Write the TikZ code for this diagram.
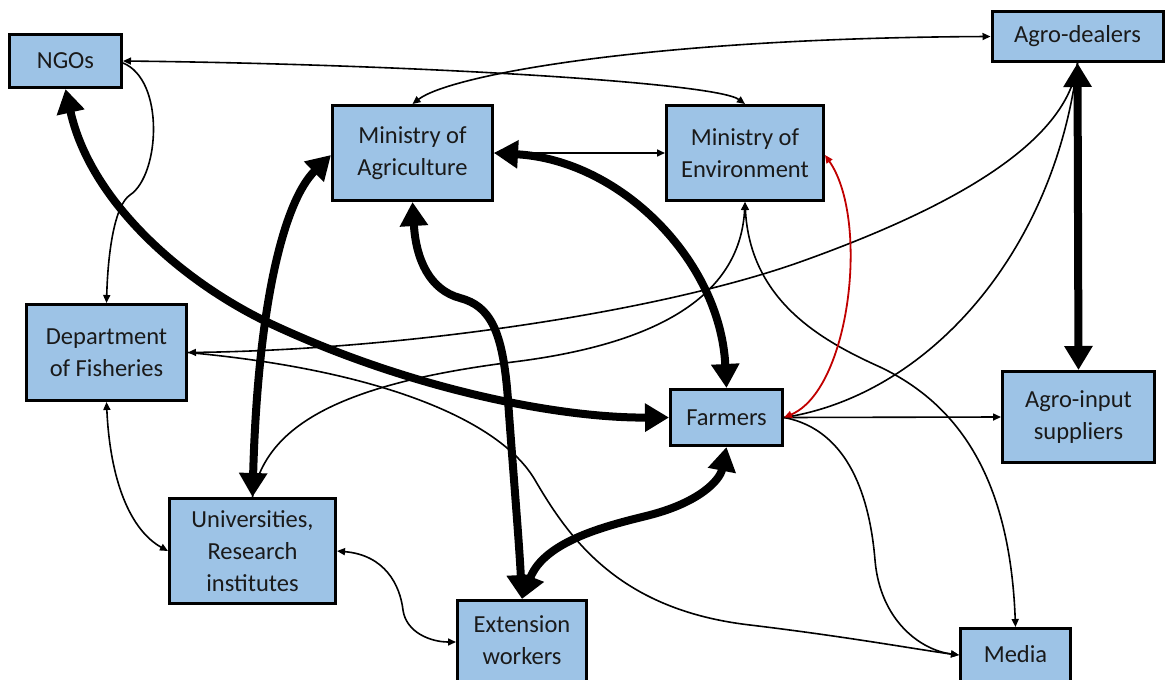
\documentclass[tikz,border=0pt]{standalone}
\usepackage{fontspec}
\setmainfont{Carlito}
\usetikzlibrary{arrows.meta}
\definecolor{boxblue}{HTML}{9DC3E6}
\definecolor{txt}{HTML}{1A1A1A}
\definecolor{redline}{HTML}{C00000}
\tikzset{
  tn/.tip={Triangle[length=8pt,width=7pt]},
  tk/.tip={Triangle[length=24pt,width=27pt]}
}
\begin{document}
\begin{tikzpicture}[x=1pt,y=-1pt,
  box/.style={draw=black,line width=3pt,fill=boxblue,text=txt,align=center,inner sep=0pt,font=\fontsize{24.5}{32}\selectfont},
  lnk/.style={line width=1.6pt,draw=black},
  big/.style={line width=8pt,draw=black},
  redl/.style={line width=1.8pt,draw=redline}]
\useasboundingbox (0,0) rectangle (1165,680);
% nodes
\node[box,minimum width=112pt,minimum height=53pt] (ngo) at (65.5,61) {NGOs};
\node[box,minimum width=160pt,minimum height=95pt] (moa) at (412.5,153) {Ministry of\\Agriculture};
\node[box,minimum width=157pt,minimum height=95pt] (moe) at (745,153) {Ministry of\\Environment};
\node[box,minimum width=171pt,minimum height=50pt] (agd) at (1077.5,36.5) {Agro-dealers};
\node[box,minimum width=160pt,minimum height=96pt] (dof) at (106.5,352.5) {Department\\of Fisheries};
\node[box,minimum width=112pt,minimum height=56pt] (far) at (726.5,417.5) {Farmers};
\node[box,minimum width=152pt,minimum height=91pt] (ais) at (1078.5,417) {Agro-input\\suppliers};
\node[box,minimum width=166pt,minimum height=105pt] (uni) at (252.5,551) {Universities,\\Research\\institutes};
\node[box,minimum width=129pt,minimum height=111pt] (ext) at (522,656) {Extension\\workers\\\mbox{}};
\node[box,minimum width=110pt,minimum height=83pt] (med) at (1015.5,670) {Media\\\mbox{}};
% thin connectors
\draw[lnk,tn-tn] (ngo.east) .. controls (400,64) and (715,82) .. (moe.north);
\draw[lnk,tn-tn] (moa.north) .. controls (450,75) and (650,38) .. (agd.west);
\draw[lnk,-tn] ([yshift=-2pt]ngo.east) .. controls (165,80) and (160,175) .. (130,195) .. controls (115,205) and (108,250) .. (dof.north);
\draw[lnk,tn-tn] (moa.east) -- (moe.west);
\draw[lnk,-tn] (agd.south) .. controls (1068,140) and (960,205) .. (800,262) .. controls (656,313) and (400,350) .. (dof.east);
\draw[lnk] (far.east) .. controls (930,395) and (1055,250) .. (agd.south);
\draw[lnk,-tn] (far.east) -- (ais.west);
\draw[lnk,tn-tn] (moe.south) .. controls (750,300) and (820,340) .. (880,367) .. controls (960,405) and (1010,480) .. (med.north);
\draw[lnk,tn-] (moe.south) .. controls (740,300) and (650,345) .. (513,362) .. controls (330,385) and (265,430) .. (uni.north);
\draw[lnk,tn-tn] (dof.south) .. controls (110,480) and (130,530) .. (uni.west);
\draw[lnk,tn-tn] (uni.east) .. controls (385,555) and (400,585) .. (403,610) .. controls (406,632) and (430,642) .. ([yshift=14pt]ext.west);
\draw[lnk,-tn] (dof.east) .. controls (380,370) and (500,420) .. (535,480) .. controls (570,540) and (620,610) .. (750,625) .. controls (850,637) and (920,650) .. ([yshift=15pt]med.west);
\draw[lnk,-tn] (far.east) .. controls (850,430) and (870,500) .. (875,560) .. controls (880,620) and (920,650) .. ([yshift=15pt]med.west);
% red connector
\draw[redl,tn-tn] (far.east) .. controls (850,390) and (870,220) .. ([yshift=-2pt]moe.east);
% thick connectors
\draw[big,tk-tk] (ngo.south) .. controls (90,200) and (180,280) .. (267,322) .. controls (400,385) and (550,418) .. (far.west);
\draw[big,tk-tk] ([yshift=-2pt]moa.west) .. controls (285,200) and (258,300) .. (uni.north);
\draw[big,tk-tk] (moa.east) .. controls (620,160) and (720,260) .. (far.north);
\draw[big,tk-tk] (moa.south) .. controls (416,260) and (430,290) .. (460,298) .. controls (490,306) and (503,330) .. (508,400) .. controls (513,470) and (519,540) .. (ext.north);
\draw[big,tk-tk] (ext.north) .. controls (545,540) and (610,525) .. (650,515) .. controls (700,502) and (720,480) .. (far.south);
\draw[big,tk-tk] (agd.south) -- (ais.north);
\end{tikzpicture}
\end{document}
